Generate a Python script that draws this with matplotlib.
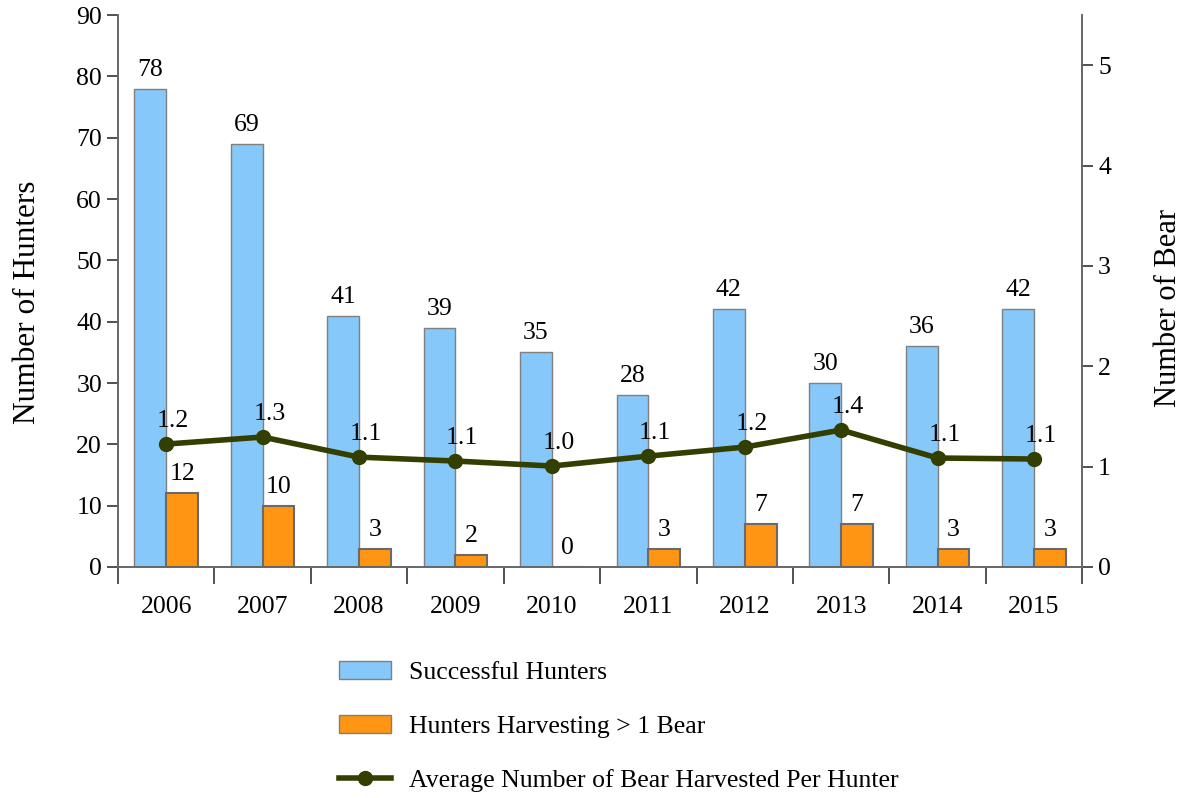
import matplotlib
matplotlib.use("Agg")
import matplotlib.pyplot as plt
from matplotlib.lines import Line2D
import numpy as np

plt.rcParams['font.family'] = ['Liberation Serif', 'DejaVu Serif']

years = ["2006", "2007", "2008", "2009", "2010", "2011", "2012", "2013", "2014", "2015"]
successful = [78, 69, 41, 39, 35, 28, 42, 30, 36, 42]
multi_bear = [12, 10, 3, 2, 0, 3, 7, 7, 3, 3]
avg_bear = [1.225, 1.295, 1.095, 1.056, 1.006, 1.105, 1.195, 1.365, 1.086, 1.076]

BLUE = "#87c8fa"
ORANGE = "#ff9512"
LINE = "#333f00"
EDGE = "#7f7f7f"
FS = 18.5

fig = plt.figure(figsize=(11.84, 7.98), dpi=100)
ax = fig.add_axes([0.0997, 0.2895, 0.8143, 0.6915])
ax2 = ax.twinx()

x = np.arange(len(years))
bw = 0.33
ax.bar(x - bw / 2, successful, bw, color=BLUE, edgecolor=EDGE, lw=1.0, zorder=2)
ax.bar(x + bw / 2, multi_bear, bw, color=ORANGE, edgecolor="#6a6a6a", lw=1.5, zorder=2)

for xi, v in zip(x, successful):
    ax.text(xi - bw / 2, v + 1.3, f"{v}", ha="center", va="bottom", fontsize=FS)
for xi, v in zip(x, multi_bear):
    ax.text(xi + bw / 2, v + 1.3, f"{v}", ha="center", va="bottom", fontsize=FS)

ax2.plot(x, avg_bear, color=LINE, lw=4, marker="o", ms=10, zorder=3)
for xi, v in zip(x, avg_bear):
    ax2.text(xi + 0.07, v + 0.12, f"{v:.1f}", ha="center", va="bottom", fontsize=FS)

ax.set_xlim(-0.5, len(years) - 0.5)
ax.set_ylim(0, 90)
ax.set_yticks(range(0, 91, 10))
ax2.set_ylim(0, 5.5)
ax2.set_yticks(range(0, 6))

ax.set_xticks(x)
ax.set_xticklabels(years)
ax.set_xticks(np.arange(-0.5, len(years), 1), minor=True)
ax.tick_params(axis="x", which="major", length=0, pad=21, labelsize=FS)
ax.tick_params(axis="x", which="minor", length=12, width=1.2, color="#333333")
ax.tick_params(axis="y", length=8, width=1.2, color="#333333", labelsize=FS)
ax2.tick_params(axis="y", length=8, width=1.2, color="#333333", labelsize=FS)

for a in (ax, ax2):
    a.spines["top"].set_visible(False)
    for s in ("left", "right", "bottom"):
        a.spines[s].set_color("#666666")
        a.spines[s].set_linewidth(1.2)

ax.set_ylabel("Number of Hunters", fontsize=22.5, labelpad=25)
ax2.set_ylabel("Number of Bear", fontsize=22, labelpad=31)
ax.yaxis.label.set_y(0.479)
ax2.yaxis.label.set_y(0.469)

handles = [
    plt.Rectangle((0, 0), 1, 1, facecolor=BLUE, edgecolor=EDGE),
    plt.Rectangle((0, 0), 1, 1, facecolor=ORANGE, edgecolor=EDGE),
    Line2D([0], [0], color=LINE, lw=4, marker="o", ms=10),
]
labels = ["Successful Hunters", "Hunters Harvesting > 1 Bear",
          "Average Number of Bear Harvested Per Hunter"]
fig.legend(handles, labels, loc="upper left", bbox_to_anchor=(0.278, 0.184),
           frameon=False, fontsize=FS, labelspacing=1.2, handlelength=2.0,
           handletextpad=0.7, borderaxespad=0)

fig.savefig("out.png", dpi=100, facecolor="white")
